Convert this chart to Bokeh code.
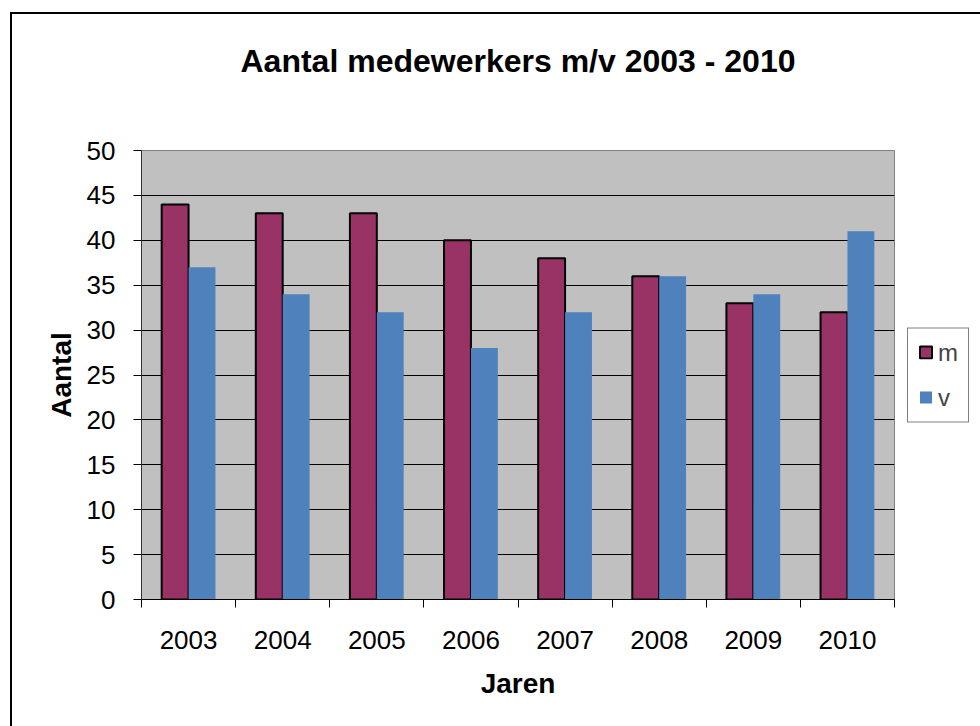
from bokeh.plotting import figure
from bokeh.models import (ColumnDataSource, Range1d, FixedTicker, Legend, LinearAxis)
from bokeh.transform import dodge
from bokeh.embed import file_html
from bokeh.resources import INLINE

# ---- data ----
years = ["2003", "2004", "2005", "2006", "2007", "2008", "2009", "2010"]
m_vals = [44, 43, 43, 40, 38, 36, 33, 32]
v_vals = [37, 34, 32, 28, 32, 36, 34, 41]
y_ticks = [0, 5, 10, 15, 20, 25, 30, 35, 40, 45, 50]
title_text = "Aantal medewerkers m/v 2003 - 2010"
x_label = "Jaren"
y_label = "Aantal"

FONT = "Liberation Sans"
n = len(years)
centers = [i + 0.5 for i in range(n)]
source = ColumnDataSource(dict(pos=centers, m=m_vals, v=v_vals))

p = figure(frame_width=753, frame_height=449, output_backend="svg", toolbar_location=None,
           x_range=Range1d(0, n), y_range=Range1d(0, 50), title=None,
           min_border_left=129, min_border_right=86,
           min_border_top=136, min_border_bottom=127,
           background_fill_color="#C0C0C0", border_fill_color="white")
p.margin = (12, 0, 0, 10)
p.styles = {"border-left": "2px solid black", "border-top": "2px solid black"}

bw = 1 / 3.5
r_m = p.vbar(x=dodge("pos", -bw / 2), top="m", width=bw, source=source,
             fill_color="#993366", line_color="black", line_width=2)
r_v = p.vbar(x=dodge("pos", bw / 2), top="v", width=bw, source=source,
             fill_color="#4F81BD", line_color=None)

# x axis: labels at centers, tick marks at category boundaries
p.xaxis.ticker = FixedTicker(ticks=centers, minor_ticks=list(range(n + 1)))
p.xaxis.major_label_overrides = {c: y for c, y in zip(centers, years)}
p.xaxis.major_tick_out = 0
p.xaxis.major_tick_in = 0
p.xaxis.minor_tick_out = 8
p.xaxis.minor_tick_in = 0
p.xaxis.minor_tick_line_color = "black"
p.xaxis.axis_line_color = "black"
p.xaxis.major_label_text_font = FONT
p.xaxis.major_label_text_font_size = "26px"
p.xaxis.major_label_text_color = "black"
p.xaxis.major_label_standoff = 23
p.xaxis.axis_label = x_label
p.xaxis.axis_label_text_font = FONT
p.xaxis.axis_label_text_font_style = "bold"
p.xaxis.axis_label_text_font_size = "28px"
p.xaxis.axis_label_text_color = "black"
p.xaxis.axis_label_standoff = 16

# y axis
p.yaxis.ticker = FixedTicker(ticks=y_ticks)
p.yaxis.major_tick_out = 8
p.yaxis.major_tick_in = 0
p.yaxis.minor_tick_line_color = None
p.yaxis.major_tick_line_color = "black"
p.yaxis.axis_line_color = "#333333"
p.yaxis.major_label_text_font = FONT
p.yaxis.major_label_text_font_size = "26px"
p.yaxis.major_label_text_color = "black"
p.yaxis.major_label_standoff = 18
p.yaxis.axis_label = y_label
p.yaxis.axis_label_text_font = FONT
p.yaxis.axis_label_text_font_style = "bold"
p.yaxis.axis_label_text_font_size = "28px"
p.yaxis.axis_label_text_color = "black"
p.yaxis.axis_label_standoff = 7

p.xgrid.visible = False
p.ygrid.grid_line_color = "black"
p.ygrid.grid_line_width = 1
p.outline_line_color = "#808080"

# chart title drawn as the label of a bare axis above the frame
title_axis = LinearAxis(ticker=FixedTicker(ticks=[]), axis_line_color=None,
                        major_tick_line_color=None, minor_tick_line_color=None,
                        major_tick_out=0, major_tick_in=0, minor_tick_out=0, minor_tick_in=0,
                        major_label_standoff=0, major_label_text_font_size="1px",
                        axis_label=title_text, axis_label_text_font=FONT,
                        axis_label_text_font_style="bold",
                        axis_label_text_font_size="32px", axis_label_text_color="black",
                        axis_label_standoff=72)
p.add_layout(title_axis, "above")

legend = Legend(items=[("m", [r_m]), ("v", [r_v])], location="left",
                label_text_font=FONT, label_text_font_size="24px",
                glyph_width=15, glyph_height=15, label_height=26,
                spacing=17, padding=10, margin=13, label_standoff=5,
                border_line_color="black", border_line_width=1,
                background_fill_color="white")
p.add_layout(legend, "right")

open("out.html", "w").write(file_html(p, INLINE))
